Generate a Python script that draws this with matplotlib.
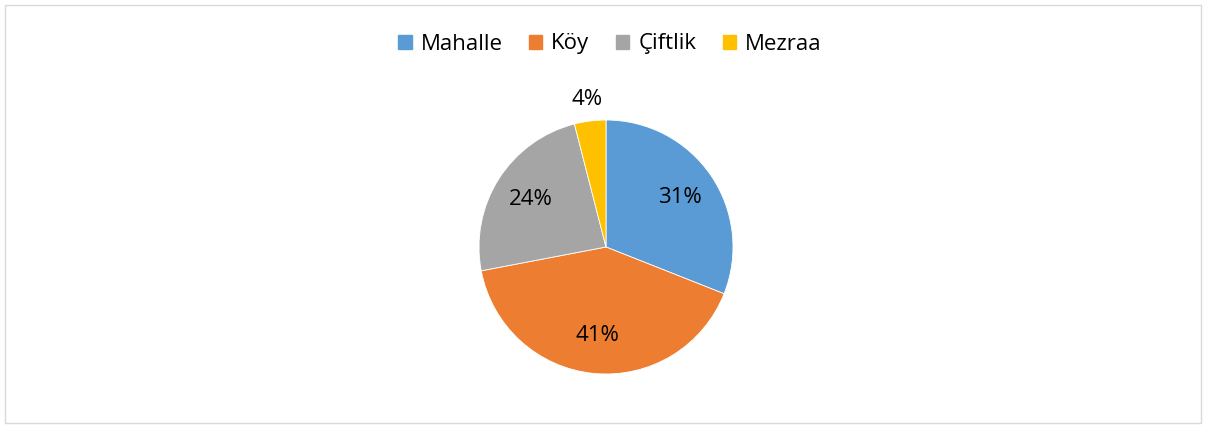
import matplotlib
matplotlib.use("Agg")
import matplotlib.pyplot as plt
from matplotlib.patches import Rectangle, Patch
import numpy as np

categories = ["Mahalle", "Köy", "Çiftlik", "Mezraa"]
values = [31, 41, 24, 4]
colors = ["#5B9BD5", "#ED7D31", "#A5A5A5", "#FFC000"]

plt.rcParams['font.family'] = ['Open Sans', 'DejaVu Sans']

W, H = 1206, 428
fig = plt.figure(figsize=(W/100, H/100), dpi=100)

# border
fig.patches.append(Rectangle((5/W, 5/H), 1196/W, 418/H, transform=fig.transFigure,
                             fill=False, edgecolor="#D9D9D9", linewidth=1))

cx, cy, r = 606, 247, 127
ax = fig.add_axes([(cx - r)/W, (H - cy - r)/H, 2*r/W, 2*r/H])
wedges, texts, autotexts = ax.pie(values, colors=colors, startangle=90, counterclock=False,
                                  autopct=lambda p: f"{p:.0f}%", pctdistance=0.7,
                                  wedgeprops=dict(edgecolor="white", linewidth=0.6),
                                  textprops=dict(fontsize=16, color="#000000"))
ax.set_xlim(-1, 1)
ax.set_ylim(-1, 1)
ax.set_aspect('equal')
ax.axis('off')

# small slice label outside
for w, t, v in zip(wedges, autotexts, values):
    if v < 10:
        ang = np.deg2rad((w.theta1 + w.theta2) / 2)
        t.set_position((1.17*np.cos(ang), 1.17*np.sin(ang)))
    t.set_clip_on(False)

handles = [Patch(facecolor=c, edgecolor=c) for c in colors]
fig.legend(handles, categories, loc="center", bbox_to_anchor=(610/W, 1 - 44/H), ncol=4,
           frameon=False, fontsize=16, handlelength=0.6, handleheight=0.6,
           handletextpad=0.4, columnspacing=1.2)

fig.savefig("out.png", dpi=100)
